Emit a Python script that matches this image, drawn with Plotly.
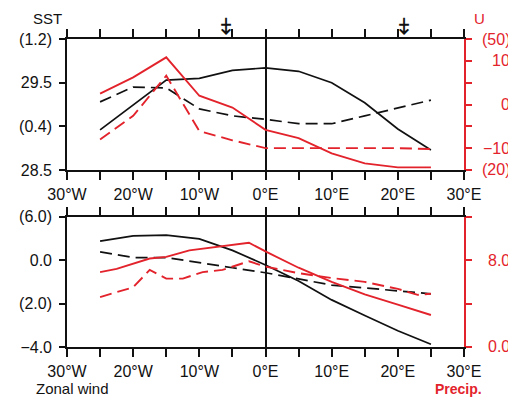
import plotly.graph_objects as go

RED = "#e3232c"
BLACK = "#111111"

# ---------------- data ----------------
lon = [-25, -20, -15, -10, -5, 0, 5, 10, 15, 20, 25]

# top panel
sst_solid = [28.96, 29.25, 29.53, 29.55, 29.64, 29.67, 29.63, 29.50, 29.27, 28.97, 28.73]
sst_dashed = [29.28, 29.45, 29.44, 29.20, 29.12, 29.08, 29.03, 29.03, 29.12, 29.21, 29.30]
u_solid = [2.5, 6.2, 10.8, 2.0, -0.7, -5.8, -7.7, -11.2, -13.5, -14.4, -14.4]
u_dashed = [-8.0, -2.6, 6.6, -6.1, -8.2, -10.0, -10.0, -10.0, -10.0, -10.0, -10.2]

# bottom panel
zw_solid = [0.88, 1.12, 1.15, 0.98, 0.45, -0.22, -0.96, -1.83, -2.55, -3.25, -3.87]
zw_dashed = [0.38, 0.12, 0.12, -0.10, -0.35, -0.58, -0.85, -1.15, -1.28, -1.42, -1.55]
pr_solid_lon = [-25, -22.5, -17.5, -15, -11.5, -9, -2.5, 0, 5, 10, 15, 20, 25]
pr_solid = [6.9, 7.2, 8.15, 8.3, 8.9, 9.1, 9.6, 8.8, 7.3, 6.0, 4.85, 3.9, 2.95]
pr_dashed_lon = [-25, -20, -17.5, -15, -12.5, -9.5, -6.5, -2.5, 0, 5, 10, 15, 20, 23, 25]
pr_dashed = [4.6, 5.5, 7.1, 6.3, 6.3, 6.9, 7.1, 7.9, 7.4, 6.8, 6.35, 6.0, 5.35, 4.8, 4.9]

# ticks
x_tickvals = [-30, -25, -20, -15, -10, -5, 0, 5, 10, 15, 20, 25, 30]
x_ticktext = ["30°W", "", "20°W", "", "10°W", "", "0°E", "", "10°E", "", "20°E", "", "30°E"]
sst_tickvals = [28.5, 29.0, 29.5, 30.0]
sst_ticktext = ["28.5", "(0.4)", "29.5", "(1.2)"]
u_tickvals = [-15, -10, -5, 0, 5, 10, 15]
u_ticktext = ["(20)", "−10", "", "0", "", "10", "(50)"]
zw_tickvals = [-4, -2, 0, 2]
zw_ticktext = ["−4.0", "(2.0)", "0.0", "(6.0)"]
pr_tickvals = [0, 4, 8, 12]
pr_ticktext = ["0.0", "", "8.0", ""]
arrow_lon = [-6, 21]

FONT = "Liberation Sans"
DASH = "12px,6px"

fig = go.Figure()

def add(x, y, color, dash, xa, ya, w):
    fig.add_trace(go.Scatter(x=x, y=y, mode="lines", xaxis=xa, yaxis=ya,
                             line=dict(color=color, width=w, dash=dash),
                             showlegend=False, hoverinfo="skip"))

add(lon, sst_solid, BLACK, "solid", "x", "y", 1.7)
add(lon, sst_dashed, BLACK, DASH, "x", "y", 1.7)
add(lon, u_solid, RED, "solid", "x", "y2", 1.9)
add(lon, u_dashed, RED, DASH, "x", "y2", 1.9)

add(lon, zw_solid, BLACK, "solid", "x2", "y3", 1.7)
add(lon, zw_dashed, BLACK, DASH, "x2", "y3", 1.7)
add(pr_solid_lon, pr_solid, RED, "solid", "x2", "y4", 1.9)
add(pr_dashed_lon, pr_dashed, RED, DASH, "x2", "y4", 1.9)

xcommon = dict(range=[-30, 30], tickmode="array", tickvals=x_tickvals, ticktext=x_ticktext,
               ticks="outside", ticklen=8, tickwidth=1.5, tickcolor=BLACK,
               showline=True, linecolor=BLACK, linewidth=1.6, mirror="ticks",
               showgrid=False, zeroline=True, zerolinecolor=BLACK, zerolinewidth=1.5,
               tickfont=dict(family=FONT, size=16, color=BLACK), ticklabelstandoff=1)
ycommon = dict(tickmode="array", ticks="outside", ticklen=6, tickwidth=1.5, tickcolor=BLACK,
               showline=True, linecolor=BLACK, linewidth=1.6, showgrid=False, zeroline=False,
               tickfont=dict(family=FONT, size=16, color=BLACK), ticklabelstandoff=4)
rcommon = dict(tickmode="array", ticks="outside", ticklen=6, tickwidth=1.5, tickcolor=RED,
               showline=True, linecolor=RED, linewidth=1.6, showgrid=False, zeroline=False,
               showticklabels=False, side="right")

top_dom = [0.5747, 1.0]
bot_dom = [0.0, 0.423]

# page body has an 8px margin: figure is 8px smaller and offset accordingly
fig.update_layout(
    width=508, height=389,
    margin=dict(l=59, r=52, t=31, b=50),
    paper_bgcolor="white", plot_bgcolor="white",
    xaxis=dict(domain=[0, 1], anchor="y", **xcommon),
    yaxis=dict(domain=top_dom, range=[28.5, 30.0], tickvals=sst_tickvals, ticktext=sst_ticktext, **ycommon),
    yaxis2=dict(overlaying="y", anchor="x", range=[-15, 15], tickvals=u_tickvals, **rcommon),
    xaxis2=dict(domain=[0, 1], anchor="y3", **xcommon),
    yaxis3=dict(domain=bot_dom, range=[-4, 2], tickvals=zw_tickvals, ticktext=zw_ticktext, **ycommon),
    yaxis4=dict(overlaying="y3", anchor="x2", range=[0, 12], tickvals=pr_tickvals, **rcommon),
)

ann = []
# right-aligned right-axis labels
for v, t in zip(u_tickvals, u_ticktext):
    if t:
        ann.append(dict(x=1.121, y=v, xref="paper", yref="y2", text=t, showarrow=False,
                        xanchor="right", yanchor="middle",
                        font=dict(family=FONT, size=16, color=RED)))
for v, t in zip(pr_tickvals, pr_ticktext):
    if t:
        ann.append(dict(x=1.121, y=v, xref="paper", yref="y4", text=t, showarrow=False,
                        xanchor="right", yanchor="middle",
                        font=dict(family=FONT, size=16, color=RED)))
# axis titles
ann.append(dict(x=-0.048, y=1.068, xref="paper", yref="paper", text="SST", showarrow=False,
                xanchor="center", yanchor="middle", font=dict(family=FONT, size=15, color=BLACK)))
ann.append(dict(x=1.04, y=1.068, xref="paper", yref="paper", text="U", showarrow=False,
                xanchor="center", yanchor="middle", font=dict(family=FONT, size=15, color=RED)))
ann.append(dict(x=-0.082, y=-0.136, xref="paper", yref="paper", text="Zonal wind", showarrow=False,
                xanchor="left", yanchor="middle", font=dict(family=FONT, size=15, color=BLACK)))
ann.append(dict(x=0.922, y=-0.136, xref="paper", yref="paper", text="<b>Precip.</b>", showarrow=False,
                xanchor="left", yanchor="middle", font=dict(family=FONT, size=14, color=RED)))
# arrows
for a in arrow_lon:
    ann.append(dict(x=a, y=1.045, xref="x", yref="paper", text="<b>⤈</b>", showarrow=False,
                    xanchor="center", yanchor="middle", font=dict(family="DejaVu Sans", size=22, color=BLACK)))

fig.update_layout(annotations=ann)
fig.write_html("out.html")
